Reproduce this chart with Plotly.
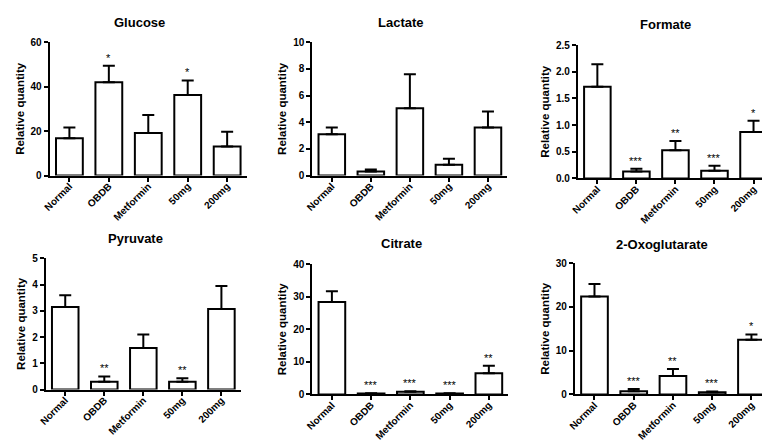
import plotly.graph_objects as go

W, H = 770, 445

groups = ["Normal", "OBDB", "Metformin", "50mg", "200mg"]

titles = ["Glucose", "Lactate", "Formate", "Pyruvate", "Citrate", "2-Oxoglutarate"]

glucose_mean = [16.8, 42.0, 19.1, 36.2, 13.1]
glucose_sem = [4.8, 7.4, 8.1, 6.6, 6.6]
glucose_sig = ["", "*", "", "*", ""]

lactate_mean = [3.1, 0.3, 5.05, 0.8, 3.6]
lactate_sem = [0.5, 0.15, 2.55, 0.45, 1.2]
lactate_sig = ["", "", "", "", ""]

formate_mean = [1.72, 0.13, 0.53, 0.146, 0.87]
formate_sem = [0.42, 0.05, 0.17, 0.09, 0.21]
formate_sig = ["", "***", "**", "***", "*"]

pyruvate_mean = [3.14, 0.30, 1.58, 0.30, 3.07]
pyruvate_sem = [0.45, 0.20, 0.52, 0.13, 0.87]
pyruvate_sig = ["", "**", "", "**", ""]

citrate_mean = [28.4, 0.3, 0.8, 0.3, 6.5]
citrate_sem = [3.3, 0.1, 0.2, 0.1, 2.3]
citrate_sig = ["", "***", "***", "***", "**"]

oxo_mean = [22.4, 0.73, 4.2, 0.5, 12.5]
oxo_sem = [2.8, 0.5, 1.6, 0.2, 1.2]
oxo_sig = ["", "***", "**", "***", "*"]

y_max = [60, 10, 2.5, 5, 40, 30]
y_dtick = [20, 2, 0.5, 1, 10, 10]
y_fmt = ["", "", ".1f", "", "", ""]

means = [glucose_mean, lactate_mean, formate_mean, pyruvate_mean, citrate_mean, oxo_mean]
sems = [glucose_sem, lactate_sem, formate_sem, pyruvate_sem, citrate_sem, oxo_sem]
sigs = [glucose_sig, lactate_sig, formate_sig, pyruvate_sig, citrate_sig, oxo_sig]

# layout geometry in pixels (left, right, top, bottom) of each plot area
boxes = [
    (35, 234, 29, 166),
    (300, 497, 29, 166),
    (568, 765, 32, 169),
    (31, 228, 251, 386),
    (300, 498, 257, 391),
    (565, 763, 256, 391),
]
title_pos = [(126, 9), (390, 9), (656, 11), (122, 231), (390, 236), (653, 237)]

FONT = "Arial, 'Liberation Sans', sans-serif"

fig = go.Figure()
annotations = []
layout = {}

for i in range(6):
    n = "" if i == 0 else str(i + 1)
    xa = "x" + n
    ya = "y" + n
    fig.add_trace(go.Bar(
        x=groups, y=means[i],
        xaxis=xa, yaxis=ya,
        width=0.68,
        marker=dict(color="white", line=dict(color="black", width=2)),
        error_y=dict(type="data", symmetric=False, array=sems[i],
                     arrayminus=[0] * 5, color="black", thickness=2, width=6),
        showlegend=False, hoverinfo="skip",
    ))
    l, r, t, b = boxes[i]
    layout["xaxis" + n] = dict(
        domain=[l / W, r / W], anchor=ya, range=[-0.5, 4.5],
        showline=True, linecolor="black", linewidth=2,
        ticks="outside", ticklen=4, tickwidth=2, tickcolor="black",
        tickangle=-45, showgrid=False, zeroline=False,
        ticklabelstandoff=-5,
        tickfont=dict(family=FONT, size=10, color="black", weight="bold"),
    )
    layout["yaxis" + n] = dict(
        domain=[1 - b / H, 1 - t / H], anchor=xa, range=[0, y_max[i]],
        dtick=y_dtick[i], tickformat=y_fmt[i],
        showline=True, linecolor="black", linewidth=2,
        ticks="outside", ticklen=4, tickwidth=2, tickcolor="black",
        showgrid=False, zeroline=False,
        tickfont=dict(family=FONT, size=10, color="black", weight="bold"),
        title=dict(text="Relative quantity", standoff=4,
                   font=dict(family=FONT, size=11.5, color="black", weight="bold")),
    )
    tx, ty = title_pos[i]
    annotations.append(dict(
        text=titles[i], xref="paper", yref="paper", x=tx / W, y=1 - ty / H,
        xanchor="center", yanchor="middle", showarrow=False,
        font=dict(family=FONT, size=13, color="black", weight="bold"),
    ))
    for j, s in enumerate(sigs[i]):
        if s:
            annotations.append(dict(
                text=s, xref=xa, yref=ya, x=groups[j], y=means[i][j] + sems[i][j],
                xanchor="center", yanchor="bottom", showarrow=False, yshift=0,
                font=dict(family=FONT, size=11, color="black"),
            ))

fig.update_layout(
    width=W, height=H,
    margin=dict(l=0, r=0, t=0, b=0),
    paper_bgcolor="white", plot_bgcolor="white",
    annotations=annotations,
    **layout,
)

fig.write_html("out.html")
